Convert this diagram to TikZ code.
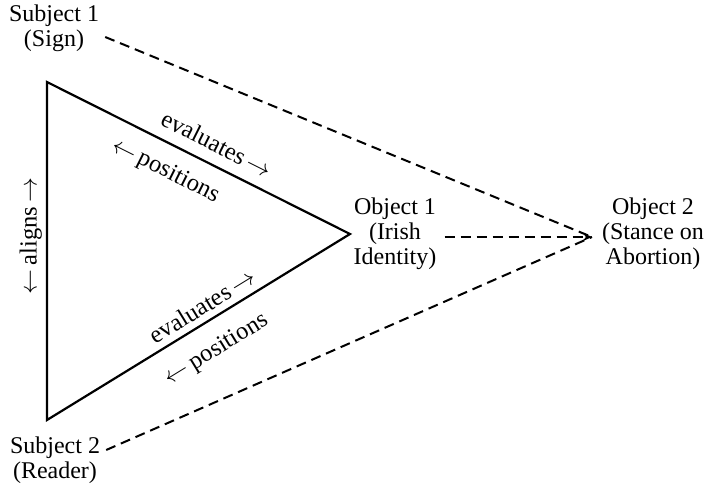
\documentclass[tikz,border=0pt]{standalone}
\usepackage{fontspec}
\setmainfont{Liberation Serif}
\usetikzlibrary{arrows.meta}

\begin{document}
\begin{tikzpicture}[x=1pt, y=-1pt,
    label/.style={align=center, inner sep=2pt, font=\fontsize{24}{25}\selectfont},
    edgetext/.style={sloped, inner sep=0pt, font=\fontsize{24.5}{25}\selectfont},
    side/.style={line width=2.2pt, line join=miter},
    link/.style={line width=2pt, dash pattern=on 10pt off 6pt}]
    \useasboundingbox (0,0) rectangle (705,487);

    \node[label] (sub1) at (54,28) {Subject 1\\(Sign)};
    \node[label] (sub2) at (55,460) {Subject 2\\(Reader)};
    \node[label] (obj1) at (395,234) {Object 1\\(Irish\\Identity)};
    \node[label] (obj2) at (653,234) {Object 2\\(Stance on\\Abortion)};

    \coordinate (tl) at (47,82);
    \coordinate (bl) at (47,420);
    \coordinate (ap) at (350,234);
    \coordinate (meet) at (592,237);

    \draw[side] (tl) -- (ap) -- (bl) -- cycle;

    \path (tl) -- node[edgetext, pos=0.53, above=12pt] {evaluates\,$\rightarrow$}
                  node[edgetext, pos=0.43, below=16pt] {$\leftarrow$\,positions} (ap);
    \path (bl) -- node[edgetext, pos=0.54, above=7pt] {evaluates\,$\rightarrow$}
                  node[edgetext, pos=0.51, below=18pt] {$\leftarrow$\,positions} (ap);
    \path (bl) -- node[edgetext, pos=0.544, above=5pt] {$\leftarrow$\,aligns\,$\rightarrow$} (tl);

    \draw[link] ([xshift=4pt, yshift=-9pt]sub1.east) -- (meet);
    \draw[link] ([xshift=4pt, yshift=10pt]sub2.east) -- (meet);
    \draw[link, -{Stealth[length=9pt, width=8pt]}] ([xshift=6pt, yshift=-3pt]obj1.east) -- (meet);

  \end{tikzpicture}
\end{document}
